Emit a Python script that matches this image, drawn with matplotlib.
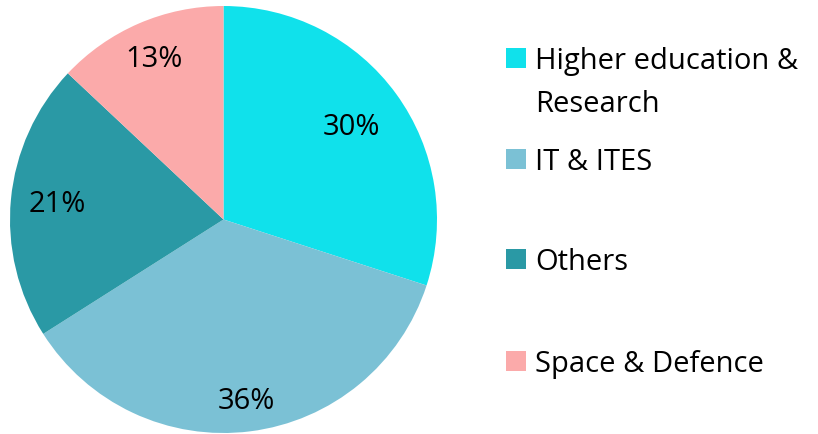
import matplotlib
matplotlib.use("Agg")
import numpy as np
import matplotlib.pyplot as plt
from matplotlib.patches import Rectangle

labels = ["Higher education &\nResearch", "IT & ITES", "Others", "Space & Defence"]
values = [30, 36, 21, 13]
colors = ["#10E1EB", "#7BC1D5", "#2A99A5", "#FBAAAA"]

plt.rcParams['font.family'] = ['Open Sans', 'DejaVu Sans']

W, H = 818, 435
fig = plt.figure(figsize=(W / 100, H / 100), dpi=100)

# pie centre / radius in pixels (from top-left)
cx, cy, r = 223.5, 220.5, 213.5
ax = fig.add_axes([(cx - r) / W, (H - cy - r) / H, 2 * r / W, 2 * r / H])

wedges, texts, autotexts = ax.pie(values, colors=colors, startangle=90, counterclock=False,
                                  autopct='%1.0f%%', pctdistance=0.8,
                                  wedgeprops=dict(linewidth=0),
                                  textprops=dict(fontsize=21, color='black'))
# label distance from the centre differs a bit per slice in the original
label_dist = [0.74, 0.855, 0.78, 0.82]
for w, t, d in zip(wedges, autotexts, label_dist):
    ang = np.deg2rad((w.theta1 + w.theta2) / 2)
    t.set_position((d * np.cos(ang), d * np.sin(ang)))

ax.set_xlim(-1, 1)
ax.set_ylim(-1, 1)
ax.set_aspect('equal')

# legend drawn by hand so the marker sits on the first line
legend_y = [58.5, 160, 260, 362]
line_h = 43  # px between baselines
for lab, col, y in zip(labels, colors, legend_y):
    fig.add_artist(Rectangle((506 / W, 1 - (y + 10) / H), 20 / W, 20 / H,
                             transform=fig.transFigure, color=col, lw=0))
    # baseline of multi-line text = last line
    nl = lab.count("\n")
    fig.text(535 / W, 1 - (y + 10 + nl * line_h) / H, lab, fontsize=21, va='baseline',
             ha='left', linespacing=1.6)

fig.savefig("out.png", dpi=100)
